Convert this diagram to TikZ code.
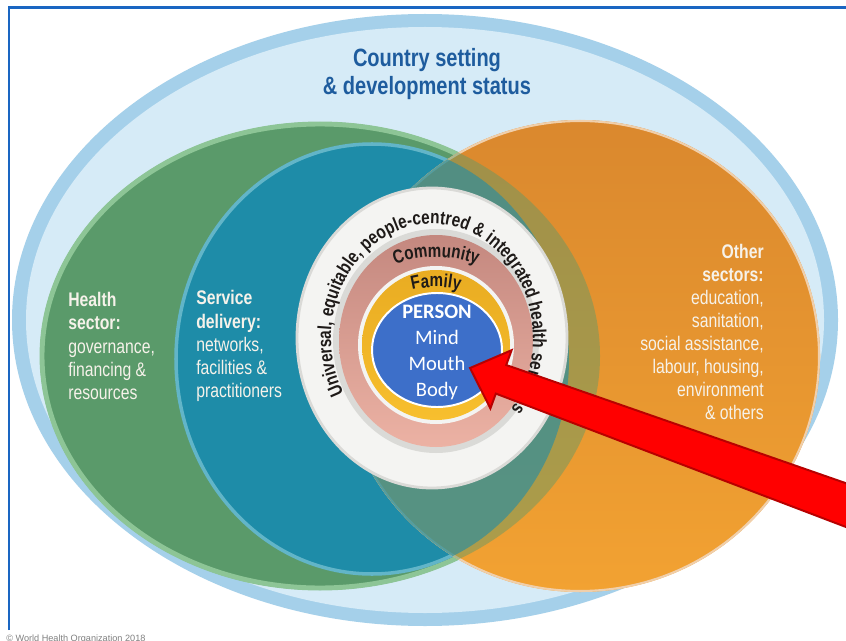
\documentclass[tikz,border=0pt]{standalone}
\usepackage{fontspec}
\setmainfont{Liberation Sans}
\newfontfamily\condfont{Liberation Sans}[FakeStretch=0.8]
\newfontfamily\personfont{Carlito}
\usepackage{tikz}
\usetikzlibrary{calc,decorations.text}

\definecolor{framebl}{HTML}{1A66C2}
\definecolor{skyband}{HTML}{A5D0EA}
\definecolor{skyfill}{HTML}{D6EBF7}
\definecolor{healthgr}{HTML}{5A9A6A}
\definecolor{healthrim}{HTML}{8DC596}
\definecolor{serviceteal}{HTML}{1E8CA8}
\definecolor{servicerim}{HTML}{62B5C8}
\definecolor{otherorg}{HTML}{DA882E}
\definecolor{otherlight}{HTML}{F2A232}
\definecolor{titleblue}{HTML}{1E5C9E}
\definecolor{ringwhite}{HTML}{F4F4F2}
\definecolor{ringgray}{HTML}{DADAD7}
\definecolor{commdark}{HTML}{C4887F}
\definecolor{commlight}{HTML}{ECB2A4}
\definecolor{famyellow}{HTML}{F7BF2E}
\definecolor{famdark}{HTML}{E9AC22}
\definecolor{persblue}{HTML}{3D6FC9}
\definecolor{arrowred}{HTML}{FF0000}
\definecolor{arrowdark}{HTML}{B80000}
\definecolor{labelcream}{HTML}{F6F2EA}
\definecolor{arcink}{HTML}{1E1A18}

\newcommand\arcfont{\condfont\bfseries\fontsize{13.6}{14}\selectfont}
\newcommand\commfont{\condfont\bfseries\fontsize{13.5}{14}\selectfont}

\begin{document}
\begin{tikzpicture}[
    x=0.025cm, y=0.025cm,
    titletext/.style={font=\condfont\bfseries\fontsize{17.8}{19.9}\selectfont,
                      text=titleblue, align=center, inner sep=0pt},
    sector/.style={font=\condfont\fontsize{14}{16.4}\selectfont,
                   text=labelcream, inner sep=0pt},
    persontext/.style={font=\personfont\fontsize{14.6}{18.5}\selectfont,
                       text=white, align=center, inner sep=0pt},
    copytext/.style={font=\fontsize{6.5}{7}\selectfont, text=gray, inner sep=0pt},
    redarrow/.style={fill=arrowred, draw=arrowdark, line width=1.4pt, line join=miter},
    frameline/.style={draw=framebl, line width=2.1pt},
  ]

  \useasboundingbox (0,0) rectangle (846,640);
  \fill[white] (0,0) rectangle (846,640);
  \clip (0,0) rectangle (846,640);

  % === Country setting ===
  \fill[skyband] (425,320) ellipse[x radius=413, y radius=306];
  \fill[skyfill] (425,320) ellipse[x radius=399, y radius=293];

  % === Sectors ===
  \fill[healthgr] (320,284) ellipse[x radius=280, y radius=234];
  \draw[healthrim, line width=3.5pt] (320,284) ellipse[x radius=278, y radius=232];
  \fill[serviceteal] (372,281) ellipse[x radius=197, y radius=216];
  \draw[servicerim, line width=2.5pt] (372,281) ellipse[x radius=196, y radius=215];
  \shade[top color=otherorg, bottom color=otherlight]
    (580,284) ellipse[x radius=240, y radius=236];
  \draw[white!60!otherorg, line width=1.5pt] (580,284) ellipse[x radius=239, y radius=235];
  \begin{scope}
    \clip (580,284) ellipse[x radius=240, y radius=236];
    \fill[healthgr, opacity=.45] (320,284) ellipse[x radius=280, y radius=234];
    \fill[serviceteal, opacity=.6] (372,281) ellipse[x radius=197, y radius=216];
  \end{scope}

  % === Rings ===
  \fill[ringwhite, draw=ringgray, line width=2pt] (432,302) ellipse[x radius=135, y radius=150];
  \fill[ringgray] (436,299) ellipse[x radius=103, y radius=112];
  \shade[top color=commdark, bottom color=commlight] (436,299) ellipse[x radius=97, y radius=106];
  \fill[ringwhite] (436,295) ellipse[x radius=78, y radius=79];
  \shade[top color=famdark, bottom color=famyellow] (436,295) ellipse[x radius=74, y radius=75];
  \fill[persblue, draw=white, line width=1.4pt] (437,290) ellipse[x radius=65, y radius=57];

  % arc labels
  \path[decorate, decoration={text along path, text align=center,
        text={|\arcfont\color{arcink}|Universal, equitable, people-centred {\&} integrated health services}}]
    (432,302) ++(228:101 and 114) arc[start angle=228, end angle=-58, x radius=101, y radius=114];
  \path[decorate, decoration={text along path, text align=center,
        text={|\commfont\color{arcink}|Community}}]
    (436,299) ++(140:100 and 84) arc[start angle=140, end angle=40, x radius=100, y radius=84];
  \path[decorate, decoration={text along path, text align=center,
        text={|\commfont\color{arcink}|Family}}]
    (436,295) ++(145:75 and 58) arc[start angle=145, end angle=35, x radius=75, y radius=58];

  % === Labels ===
  \node[titletext] (title) at (427,566) {Country setting\\\& development status};
  \node[sector, anchor=west, align=left] (health) at (68,294)
    {\textbf{Health}\\\textbf{sector:}\\governance,\\financing \&\\resources};
  \node[sector, anchor=west, align=left] (service) at (196,294)
    {\textbf{Service}\\\textbf{delivery:}\\networks,\\facilities \&\\practitioners};
  \node[sector, anchor=east, align=right] (other) at (764,308)
    {\textbf{Other}\\\textbf{sectors:}\\education,\\sanitation,\\social assistance,\\labour, housing,\\environment\\\& others};
  \node[persontext] (person) at (437,288) {\textbf{PERSON}\\Mind\\Mouth\\Body};
  \node[copytext, anchor=base west] (copy) at (6,-1) {\textcopyright\ World Health Organization 2018};

  % === Arrow ===
  \coordinate (tip) at (470,272);
  \coordinate (tail) at (874,124.8);
  \coordinate (base) at ($(tip)!0.825cm!(tail)$);
  \draw[redarrow] (tip)
    -- ($(base)!0.775cm!90:(tail)$)
    -- ($(base)!0.38cm!90:(tail)$)
    -- ($(tail)!0.525cm!-90:(tip)$)
    -- ($(tail)!0.525cm!90:(tip)$)
    -- ($(base)!0.38cm!-90:(tail)$)
    -- ($(base)!0.775cm!-90:(tail)$)
    -- cycle;

  % === Frame ===
  \draw[frameline] (9,10) -- (9,632.5) -- (850,632.5);

\end{tikzpicture}
\end{document}
